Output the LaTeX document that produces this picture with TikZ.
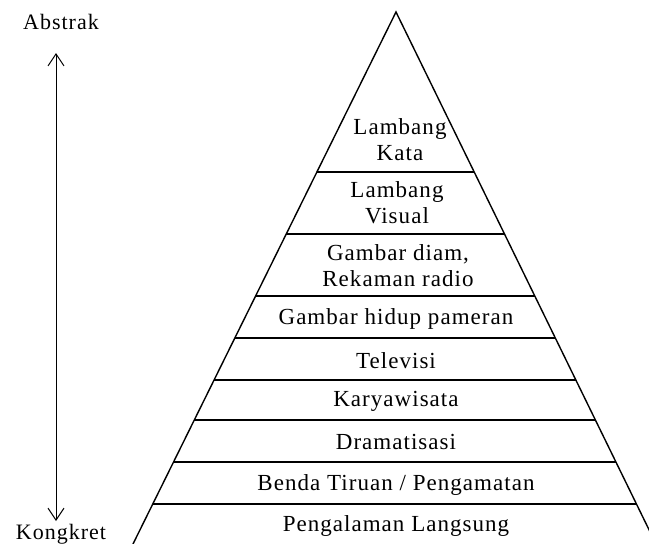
\documentclass[tikz,border=0pt]{standalone}
\usepackage{fontspec}
\setmainfont{Liberation Serif}[LetterSpace=4.5]
\usetikzlibrary{arrows.meta, calc}

\begin{document}
\begin{tikzpicture}[x=1pt, y=-1pt,
    lvl/.style={font=\fontsize{23}{26}\selectfont, align=center, inner sep=0pt},
    side/.style={font=\fontsize{22}{24}\selectfont, inner sep=0pt, anchor=base},
    edge/.style={line width=1.4pt, line join=miter},
    band/.style={line width=1.4pt},
    arr/.style={{Straight Barb[length=12pt,width=16pt]}-{Straight Barb[length=12pt,width=16pt]},
                line width=1pt}]
  \useasboundingbox (0,0) rectangle (649,544);
  % Piramida
  \coordinate (apex) at (396,12);
  \coordinate (bl) at (133,544);
  \coordinate (br) at (656,544);
  \draw[edge] (bl) -- (apex) -- (br);
  \foreach \yy [evaluate=\yy as \t using (\yy-12)/532] in {172,234,296,338,380,420,462,504}
    \draw[band] ($(apex)!\t!(bl)$) -- ($(apex)!\t!(br)$);
  % Tingkatan
  \node[lvl, anchor=north] (kata) at (400,118) {Lambang\\Kata};
  \node[lvl, anchor=north] (visual) at (397,181) {Lambang\\Visual};
  \node[lvl, anchor=north] (diam) at (398,244) {Gambar diam,\\Rekaman radio};
  \node[lvl, anchor=base] (hidup) at (396,324) {Gambar hidup pameran};
  \node[lvl, anchor=base] (tv) at (396,368) {Televisi};
  \node[lvl, anchor=base] (karya) at (396,406) {Karyawisata};
  \node[lvl, anchor=base] (drama) at (396,449) {Dramatisasi};
  \node[lvl, anchor=base] (benda) at (396,490) {Benda Tiruan / Pengamatan};
  \node[lvl, anchor=base] (langsung) at (396,531) {Pengalaman Langsung};
  % Sumbu
  \node[side] (abstrak) at (61,29) {Abstrak};
  \node[side] (kongkret) at (61,539) {Kongkret};
  \coordinate (atas) at (56,53);
  \coordinate (bawah) at (56,521);
  \draw[arr] (atas) -- (bawah);
\end{tikzpicture}
\end{document}
